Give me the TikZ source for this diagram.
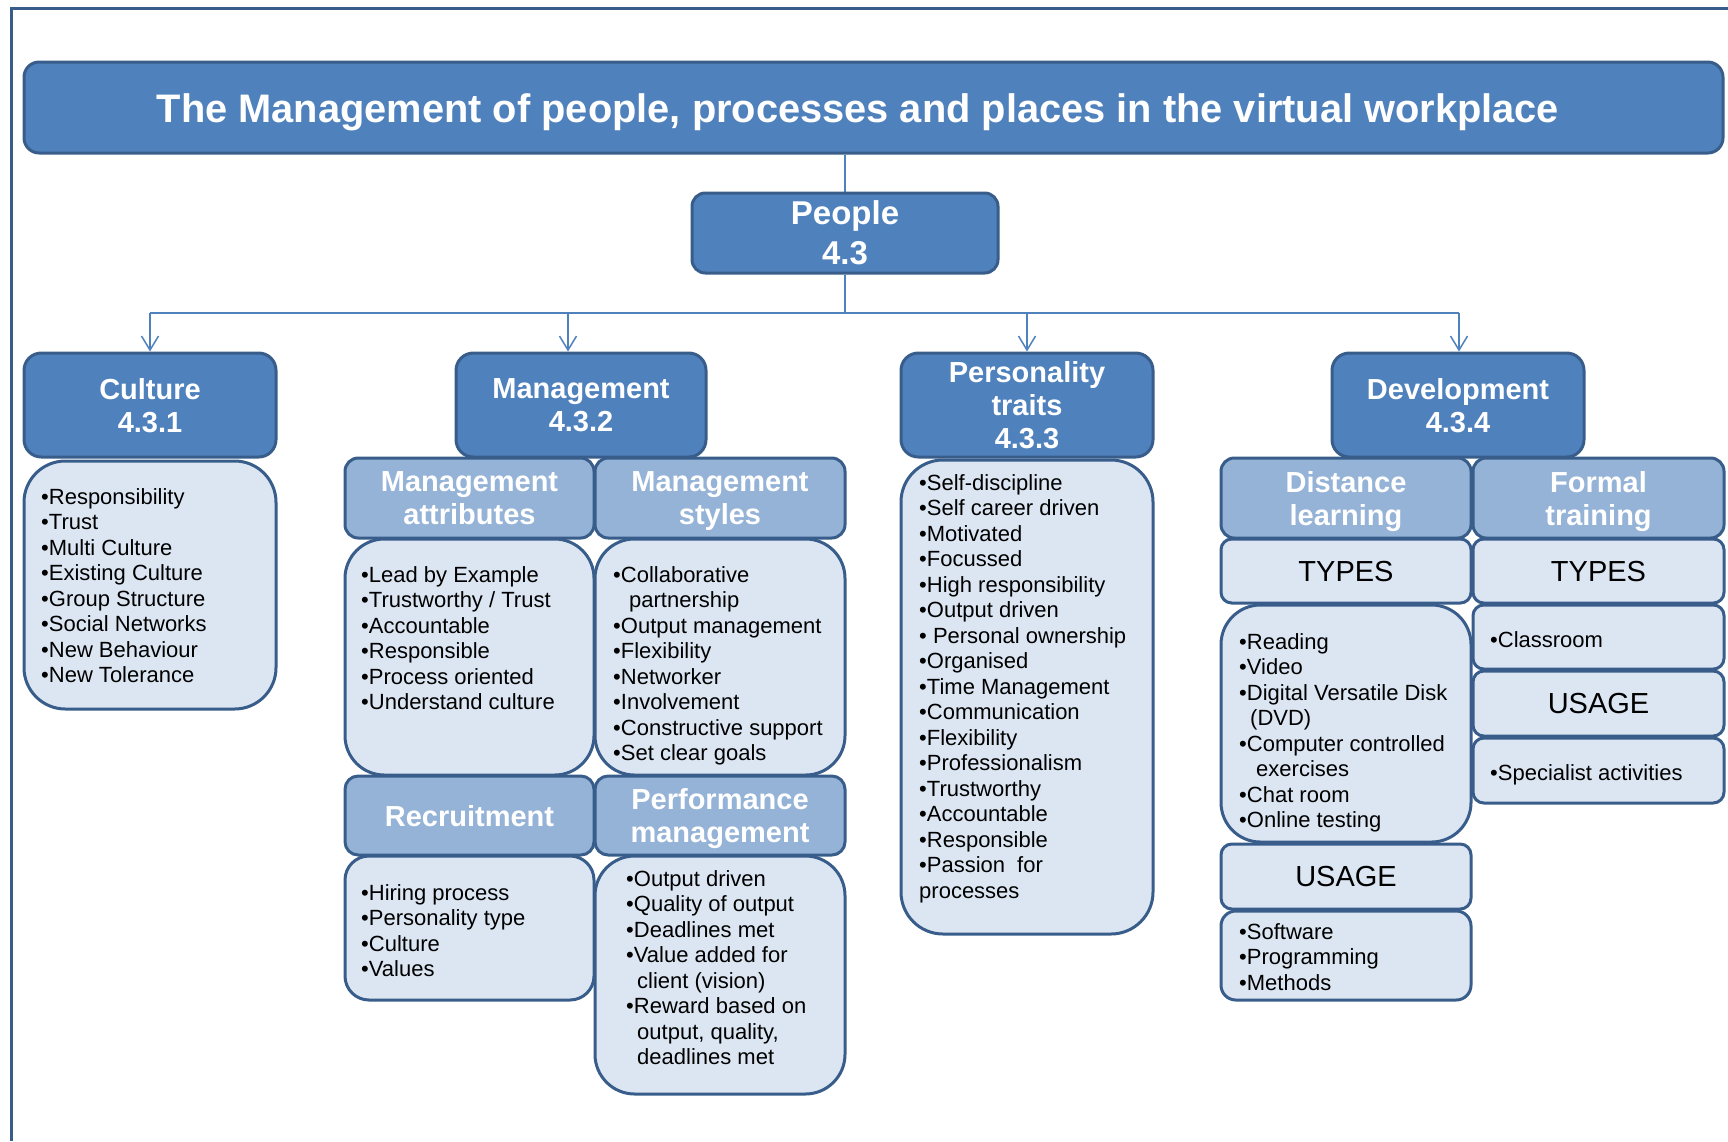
\documentclass[tikz,border=0pt]{standalone}
\usepackage{fontspec}
\setmainfont{Liberation Sans}
\usetikzlibrary{arrows.meta,backgrounds}
\definecolor{hdrblue}{HTML}{4F81BD}
\definecolor{subblue}{HTML}{95B3D7}
\definecolor{paleblue}{HTML}{DCE6F2}
\definecolor{edgeblue}{HTML}{385D8A}

\begin{document}
\begin{tikzpicture}[x=1pt, y=-1pt,
    card/.style={draw=edgeblue, line width=3pt, inner sep=0pt, align=center, text depth=0pt},
    dark/.style={card, fill=hdrblue, text=white, font=\bfseries\fontsize{29}{33}\selectfont},
    light/.style={card, fill=subblue, text=white, font=\bfseries\fontsize{29}{33}\selectfont},
    pale/.style={card, fill=paleblue, font=\fontsize{29}{33}\selectfont},
    items/.style={anchor=north west, inner sep=0pt, align=left, font=\fontsize{22}{25.5}\selectfont},
    link/.style={hdrblue, line width=1.5pt},
    feed/.style={link, -{Straight Barb[length=14pt, width=17pt, line width=1.5pt]}}]
    \def\tile#1#2#3#4#5#6#7{
        \pgfmathsetmacro\boxw{#5-#3}
        \pgfmathsetmacro\boxh{#6-#4}
        \pgfmathsetmacro\boxr{min(\boxw,\boxh)/6}
        \node[#2, minimum width=\boxw pt, minimum height=\boxh pt, rounded corners=\boxr pt]
            (#1) at ({(#3+#5)/2},{(#4+#6)/2}) {#7};
    }
    \useasboundingbox (0,0) rectangle (1728,1141);

    % Frame
    \draw[edgeblue, line width=3pt] (11,1141) |- (1728,8);

    % Title and People
    \tile{title}{dark}{24}{62}{1723}{153}{}
    \node[text=white, inner sep=0pt, text depth=0pt, font=\bfseries\fontsize{39.8}{44}\selectfont] (titletext) at (858,108)
        {The Management of people, processes and places in the virtual workplace};
    \tile{people}{dark, font=\bfseries\fontsize{33}{40}\selectfont}{692}{193}{998}{273}{People\\4.3}

    % Culture
    \tile{culture}{dark}{24}{353}{276}{457}{Culture\\4.3.1}
    \tile{cultlist}{pale}{24}{461}{276}{709}{}
    \node[items] (cultitems) at (41,488) {•Responsibility\\•Trust\\•Multi Culture\\•Existing Culture\\•Group Structure\\•Social Networks\\•New Behaviour\\•New Tolerance};

    % Management
    \tile{mgmt}{dark}{456}{353}{706}{457}{Management\\4.3.2}
    \tile{attr}{light}{345}{458}{594}{538}{Management\\attributes}
    \tile{styles}{light}{595}{458}{845}{538}{Management\\styles}
    \tile{attrlist}{pale}{345}{539}{594}{775}{}
    \tile{stylelist}{pale}{595}{539}{845}{775}{}
    \tile{recruit}{light}{345}{776}{594}{855}{Recruitment}
    \tile{perf}{light}{595}{776}{845}{855}{Performance\\management}
    \tile{recruitlist}{pale}{345}{856}{594}{1000}{}
    \tile{perflist}{pale}{595}{856}{845}{1094}{}
    \node[items] (attritems) at (361,566) {•Lead by Example\\•Trustworthy / Trust\\•Accountable\\•Responsible\\•Process oriented\\•Understand culture};
    \node[items] (styleitems) at (613,566) {•Collaborative\\\hspace*{16pt}partnership\\•Output management\\•Flexibility\\•Networker\\•Involvement\\•Constructive support\\•Set clear goals};
    \node[items] (recruititems) at (361,884) {•Hiring process\\•Personality type\\•Culture\\•Values};
    \node[items] (perfitems) at (626,870) {•Output driven\\•Quality of output\\•Deadlines met\\•Value added for\\\hspace*{11pt}client (vision)\\•Reward based on\\\hspace*{11pt}output, quality,\\\hspace*{11pt}deadlines met};

    % Personality traits
    \tile{traits}{dark}{901}{353}{1153}{457}{Personality\\traits\\4.3.3}
    \tile{traitlist}{pale}{901}{460}{1153}{934}{}
    \node[items] (traititems) at (919,474) {•Self-discipline\\•Self career driven\\•Motivated\\•Focussed\\•High responsibility\\•Output driven\\• Personal ownership\\•Organised\\•Time Management\\•Communication\\•Flexibility\\•Professionalism\\•Trustworthy\\•Accountable\\•Responsible\\•Passion\hspace{12pt}for\\processes};

    % Development
    \tile{devel}{dark}{1332}{353}{1584}{457}{Development\\4.3.4}
    \tile{distance}{light}{1221}{458}{1471}{538}{Distance\\learning}
    \tile{formal}{light}{1473}{458}{1724}{538}{Formal\\training}
    \tile{dltypes}{pale}{1221}{539}{1471}{603}{TYPES}
    \tile{fttypes}{pale}{1473}{539}{1724}{603}{TYPES}
    \tile{dllist}{pale}{1221}{605}{1471}{842}{}
    \tile{ftlist}{pale}{1473}{605}{1724}{669}{}
    \tile{ftusage}{pale}{1473}{671}{1724}{736}{USAGE}
    \tile{ftuselist}{pale}{1473}{738}{1724}{803}{}
    \tile{dlusage}{pale}{1221}{844}{1471}{909}{USAGE}
    \tile{dluselist}{pale}{1221}{911}{1471}{1000}{}
    \node[items] (dlitems) at (1239,633) {•Reading\\•Video\\•Digital Versatile Disk\\\hspace*{11pt}(DVD)\\•Computer controlled\\\hspace*{17pt}exercises\\•Chat room\\•Online testing};
    \node[items] (ftitems) at (1490,631) {•Classroom};
    \node[items] (ftuseitems) at (1490,764) {•Specialist activities};
    \node[items] (dluseitems) at (1239,923) {•Software\\•Programming\\•Methods};

    % Connectors
    \begin{scope}[on background layer]
        \coordinate (busL) at (150,313);
        \coordinate (busR) at (1459,313);
        \coordinate (mgmtin) at (568,313);
        \draw[link] (people.north) -- (people.north |- title.south);
        \draw[link] (people.south) -- (people.south |- busL);
        \draw[link] (busL) -- (busR);
        \draw[feed] (busL) -- (culture.north);
        \draw[feed] (mgmtin) -- (mgmtin |- mgmt.north);
        \draw[feed] (traits.north |- busL) -- (traits.north);
        \draw[feed] (busR) -- (busR |- devel.north);
    \end{scope}
\end{tikzpicture}
\end{document}
